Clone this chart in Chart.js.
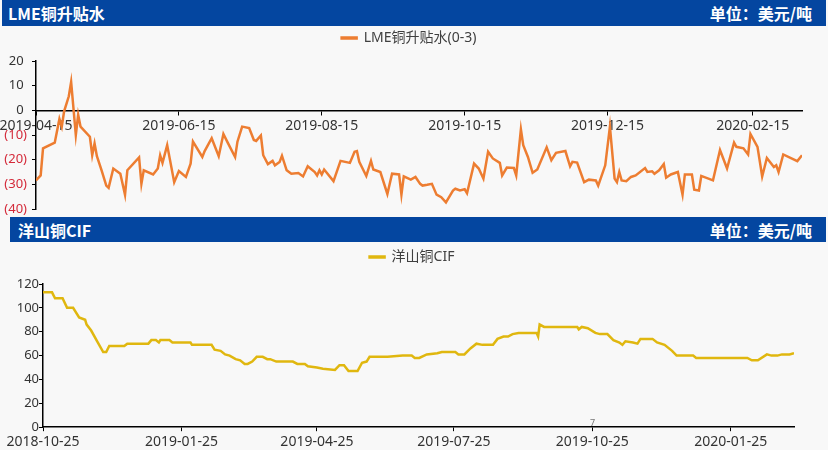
<!DOCTYPE html>
<html>
<head>
<meta charset="utf-8">
<title>LME铜升贴水 / 洋山铜CIF</title>
<script src="https://cdn.jsdelivr.net/npm/chart.js@4.4.1/dist/chart.umd.min.js"></script>
<style>
    html, body { margin: 0; padding: 0; }
    body {
        width: 828px; height: 450px; position: relative; overflow: hidden;
        background: #f8f8f8;
        font-family: "Noto Sans CJK SC", sans-serif;
    }
    .bar { position: absolute; background: #0446a0; color: #fff; font-weight: bold; font-size: 16px; }
    .bar span { position: absolute; top: 50%; transform: translateY(-50%); white-space: nowrap; }
    .bar .unit { right: 14px; }
    canvas { position: absolute; left: 0; }
    #pageNo { position: absolute; left: 590px; top: 416px; font-size: 9px; color: #777; font-family: "Noto Sans", sans-serif; }
</style>
</head>
<body>
<div class="bar" style="left:2px; top:0; width:824px; height:26px;">
    <span style="left:6px;">LME铜升贴水</span><span class="unit">单位：美元/吨</span>
</div>
<canvas id="lme" width="828" height="191" style="top:26px;"></canvas>
<div class="bar" style="left:10px; top:217px; width:816px; height:25px;">
    <span style="left:8px;">洋山铜CIF</span><span class="unit">单位：美元/吨</span>
</div>
<canvas id="cif" width="828" height="211" style="top:242px;"></canvas>
<div id="pageNo">7</div>

<script>
// ============================================================
// DATA
// ============================================================

// LME copper spread (0-3), x = days since 2019-04-15
const lmeStart = '2019-04-15';
const lmeEnd = '2020-03-07';
const lmeTickDates = ['2019-04-15', '2019-06-15', '2019-08-15', '2019-10-15', '2019-12-15', '2020-02-15'];
const lmeDay = [
    0, 2, 3, 8, 10, 11, 12, 14, 15, 17, 18, 19, 23, 24, 25, 26, 28, 30, 31, 33,
    36, 38, 39, 44, 45, 46, 50, 52, 53, 54, 56, 59, 61, 64, 66, 67, 71, 72, 75, 78,
    80, 82, 85, 86, 88, 91, 93, 94, 96, 97, 99, 101, 102, 104, 105, 107, 108, 109, 112, 114,
    116, 119, 120, 121, 122, 123, 127, 130, 134, 136, 137, 138, 141, 143, 144, 147, 150, 152, 155, 156,
    157, 160, 162, 164, 165, 167, 169, 171, 173, 175, 178, 179, 181, 183, 184, 187, 189, 191, 193, 195,
    198, 199, 201, 204, 205, 207, 208, 210, 212, 214, 218, 220, 222, 226, 228, 229, 231, 234, 236, 239,
    240, 243, 245, 247, 248, 249, 250, 252, 254, 256, 260, 261, 263, 264, 266, 268, 269, 271, 274, 276,
    277, 280, 281, 283, 284, 289, 292, 295, 298, 299, 302, 304, 305, 308, 310, 312, 315, 316, 317, 319,
    325, 327
];
const lmeValue = [
    -28.4, -26.4, -15.4, -13.1, -3.5, -6.6, -0.4, 5.7, 11.5, -10, -1.8, -6.6, -10.7, -18.2, -13.4, -18.6, -24.3, -30.5, -31.4, -23.6,
    -25.7, -34.2, -24.3, -19.1, -29.8, -24.3, -26, -23.6, -18.2, -21.3, -14.1, -29.1, -24.6, -27, -21.6, -12.7, -18.9, -16.5, -11.3, -18.6,
    -9.6, -13.4, -18.9, -12.7, -6.6, -7.2, -12, -12.4, -10.2, -18.2, -21.8, -20.5, -22.3, -20.9, -18.4, -24.3, -25, -25.7, -25.4, -26.8,
    -22.7, -25, -26.4, -24.3, -26, -24, -28.7, -20.5, -21.3, -16.8, -16.5, -20.9, -26.6, -20.5, -24, -25, -33.9, -25.7, -26, -34.2,
    -26.8, -28.1, -27, -29.8, -30.5, -30.2, -29.8, -34.2, -35.2, -37.3, -32.5, -31.8, -32.5, -32, -33.6, -21.6, -23.6, -27.7, -16.8, -19.5,
    -21.3, -26.4, -23.2, -23.4, -26.4, -7.7, -14.1, -18.9, -25.3, -24, -15, -20.2, -17.2, -16.5, -22.7, -20.9, -21.2, -29.1, -28.1, -28.4,
    -30.5, -22.3, -6.6, -27.7, -29.1, -25, -28.4, -28.7, -27, -26.4, -23.4, -25, -24.7, -25.7, -24.3, -21.8, -27.3, -26, -25, -34.2,
    -26, -26, -32.2, -32.5, -26.6, -28.4, -16.1, -23.6, -13.1, -14.8, -15.4, -17.9, -9.6, -14.8, -26.8, -19.3, -23, -22.3, -25, -17.9,
    -20.6, -18.2
];

// Yangshan copper CIF premium, x = days since 2018-10-25
const cifStart = '2018-10-25';
const cifEnd = '2020-03-07';
const cifTickDates = ['2018-10-25', '2019-01-25', '2019-04-25', '2019-07-25', '2019-10-25', '2020-01-25'];
const cifDay = [
    0, 6, 8, 13, 16, 20, 24, 28, 29, 32, 36, 40, 42, 44, 54, 56, 70, 72, 75, 77,
    78, 84, 86, 98, 99, 112, 114, 118, 121, 124, 128, 131, 134, 136, 139, 142, 146, 149, 151, 155,
    166, 169, 174, 176, 182, 186, 194, 197, 200, 203, 209, 212, 215, 217, 229, 239, 245, 247, 250, 255,
    262, 265, 274, 276, 280, 284, 288, 292, 299, 302, 306, 309, 312, 316, 322, 328, 329, 330, 333, 355,
    356, 358, 362, 367, 370, 375, 379, 383, 385, 387, 392, 395, 397, 405, 408, 413, 418, 421, 432, 434,
    468, 471, 475, 481, 484, 488, 491, 496, 499
];
const cifValue = [
    113, 113, 108, 108, 100, 100, 92, 90, 86, 81, 72, 63, 63, 68, 68, 70, 70, 73, 73, 71,
    73, 73, 71, 71, 69, 69, 65, 64, 61, 60, 57, 56, 53, 53, 55, 59, 59, 57, 57, 55,
    55, 53, 53, 51, 50, 49, 48, 52, 52, 47, 47, 54, 55, 59, 59, 60, 60, 58, 58, 61,
    62, 63, 63, 61, 61, 66, 70, 69, 69, 74, 76, 76, 78, 79, 79, 79, 76, 86, 84, 84,
    82, 84, 83, 79, 78, 78, 73, 71, 69, 72, 71, 70, 74, 74, 71, 69, 64, 60, 60, 58,
    58, 56, 56, 61, 60, 60, 61, 61, 62
];

// ============================================================
// HELPERS
// ============================================================
const tickColor = '#333333';
const negColor = '#d42a3a';
const fontFamily = '"Noto Sans", "Noto Sans CJK SC", sans-serif';

function dayOffset(start, date) {
    return Math.round((Date.parse(date) - Date.parse(start)) / 86400000);
}

function toPoints(days, values) {
    return days.map((d, i) => ({ x: d, y: values[i] }));
}

function tickLabels(start, dates) {
    const map = {};
    dates.forEach(d => { map[dayOffset(start, d)] = d; });
    return map;
}

// extra gap under the legend, and a small sideways nudge of the legend
function legendTweak(gap, dx) {
    return {
        id: 'legendTweak',
        beforeInit(chart) {
            const legend = chart.legend;
            const fit = legend.fit;
            const draw = legend.draw;
            legend.fit = function () {
                fit.call(this);
                this.height += gap;
            };
            legend.draw = function () {
                this.ctx.save();
                this.ctx.translate(dx, 0);
                draw.call(this);
                this.ctx.restore();
            };
        }
    };
}

function legendOptions() {
    return {
        labels: {
            boxWidth: 15,
            boxHeight: 1,
            padding: 5,
            color: '#404040',
            font: { size: 14, family: fontFamily }
        }
    };
}

// ============================================================
// LME CHART
// ============================================================
const lmeLabels = tickLabels(lmeStart, lmeTickDates);

new Chart(document.getElementById('lme'), {
    type: 'line',
    data: {
        datasets: [{
            label: 'LME铜升贴水(0-3)',
            data: toPoints(lmeDay, lmeValue),
            borderColor: '#ed7d31',
            backgroundColor: '#ed7d31',
            borderWidth: 2.5,
            pointRadius: 0,
            tension: 0
        }]
    },
    options: {
        responsive: false,
        animation: false,
        layout: { padding: { left: 0, right: 26, top: 0, bottom: 8 } },
        plugins: { legend: legendOptions(), tooltip: { enabled: false } },
        scales: {
            x: {
                type: 'linear',
                min: 0,
                max: dayOffset(lmeStart, lmeEnd),
                position: { y: 0 },
                grid: { drawOnChartArea: false, tickLength: 4, color: '#000' },
                border: { color: '#000', width: 1.5 },
                afterBuildTicks: s => { s.ticks = lmeTickDates.map(d => ({ value: dayOffset(lmeStart, d) })); },
                afterFit: s => { s.paddingLeft = 0; s.paddingRight = 0; },
                ticks: {
                    autoSkip: false,
                    maxRotation: 0,
                    padding: 3,
                    color: tickColor,
                    font: { size: 14, family: fontFamily },
                    callback: v => lmeLabels[v] || ''
                }
            },
            y: {
                min: -40,
                max: 20,
                grid: { drawOnChartArea: false, tickLength: 4, color: '#000' },
                border: { color: '#000', width: 1.5 },
                afterFit: s => { s.width = 36; s.paddingBottom = 0; },
                ticks: {
                    stepSize: 10,
                    padding: 5,
                    font: { size: 13, family: fontFamily },
                    color: c => (c.tick && c.tick.value < 0 ? negColor : tickColor),
                    callback: v => (v < 0 ? '(' + Math.abs(v) + ')' : v + ' ')
                }
            }
        }
    },
    plugins: [legendTweak(6, 8)]
});

// ============================================================
// CIF CHART
// ============================================================
const cifLabels = tickLabels(cifStart, cifTickDates);

new Chart(document.getElementById('cif'), {
    type: 'line',
    data: {
        datasets: [{
            label: '洋山铜CIF',
            data: toPoints(cifDay, cifValue),
            borderColor: '#e0b70f',
            backgroundColor: '#e0b70f',
            borderWidth: 2.5,
            pointRadius: 0,
            tension: 0
        }]
    },
    options: {
        responsive: false,
        animation: false,
        layout: { padding: { left: 0, right: 34, top: 3, bottom: 1 } },
        plugins: { legend: legendOptions(), tooltip: { enabled: false } },
        scales: {
            x: {
                type: 'linear',
                min: 0,
                max: dayOffset(cifStart, cifEnd),
                grid: { drawOnChartArea: false, tickLength: 4, color: '#000' },
                border: { color: '#000', width: 1.5 },
                afterBuildTicks: s => { s.ticks = cifTickDates.map(d => ({ value: dayOffset(cifStart, d) })); },
                afterFit: s => { s.paddingLeft = 0; s.paddingRight = 0; },
                ticks: {
                    autoSkip: false,
                    maxRotation: 0,
                    padding: 2,
                    color: tickColor,
                    font: { size: 14, family: fontFamily },
                    callback: v => cifLabels[v] || ''
                }
            },
            y: {
                min: 0,
                max: 120,
                grid: { drawOnChartArea: false, tickLength: 4, color: '#000' },
                border: { color: '#000', width: 1.5 },
                afterFit: s => { s.width = 43; },
                ticks: {
                    stepSize: 20,
                    padding: 0,
                    color: tickColor,
                    font: { size: 13, family: fontFamily }
                }
            }
        }
    },
    plugins: [legendTweak(10, 15)]
});
</script>
</body>
</html>
